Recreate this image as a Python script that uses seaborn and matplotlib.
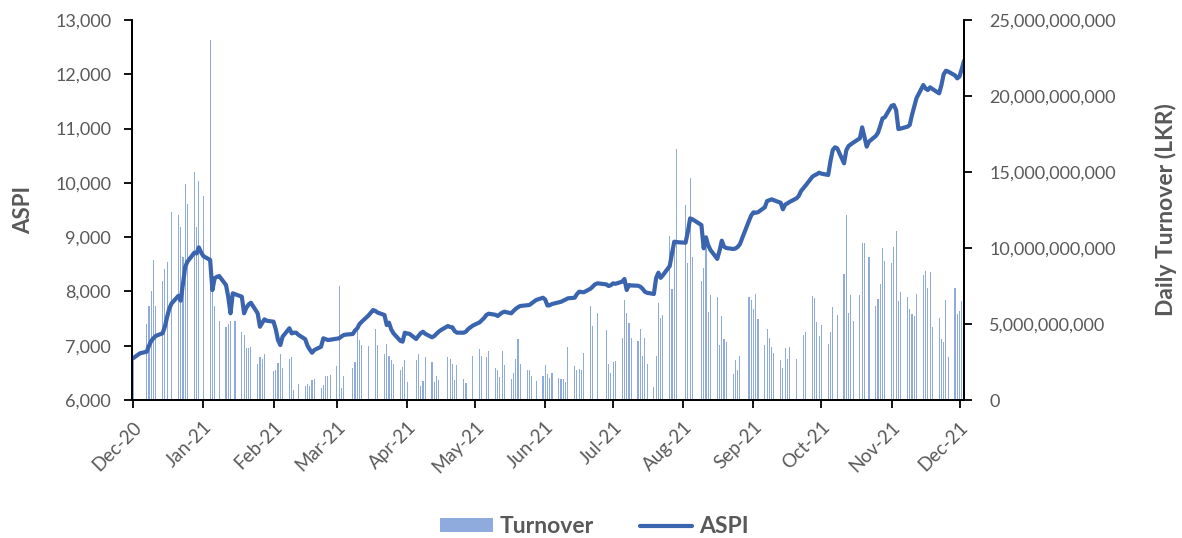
import numpy as np
import pandas as pd
import matplotlib
matplotlib.use("Agg")
import matplotlib.pyplot as plt
from matplotlib.ticker import FuncFormatter, MultipleLocator
from matplotlib.patches import Patch
from matplotlib.lines import Line2D
import seaborn as sns

nan = np.nan

# ---------------- data (trading days, Dec-2020 .. Dec-2021) ----------------
aspi_dec20 = [6770, 6800, 6830, 6860, 6890, 7000, 7090, 7140, 7180, 7230, 7350, 7530,
              7690, 7780, 7920, 7830, 8150, 8456, 8550, 8713, 8700, 8812, 8720]
aspi_jan21 = [8650, 8580, 8026, 8242, 8270, 8284, 8118, 7900, 7597, 7965, 7950, 7903,
              7597, 7700, 7760, 7792, 7597, 7350, 7420, 7486, 7460]
aspi_feb21 = [7443, 7300, 7100, 7013, 7166, 7321, 7228, 7240, 7240, 7200, 7120, 7000,
              6930, 6871, 6920, 6982, 7137, 7120, 7105, 7110]
aspi_mar21 = [7130, 7137, 7170, 7197, 7205, 7216, 7280, 7321, 7400, 7443, 7560, 7610,
              7658, 7640, 7610, 7566, 7381, 7424, 7300, 7228, 7090, 7075, 7240]
aspi_apr21 = [7225, 7220, 7124, 7180, 7230, 7258, 7220, 7155, 7179, 7220, 7260, 7290,
              7363, 7345, 7339, 7270, 7240, 7240, 7260, 7308, 7340, 7370]
aspi_may21 = [7430, 7470, 7510, 7566, 7590, 7570, 7547, 7580, 7610, 7627, 7597, 7640,
              7680, 7710, 7732, 7745, 7750, 7780, 7810, 7842, 7884]
aspi_jun21 = [7850, 7740, 7745, 7768, 7800, 7810, 7829, 7850, 7873, 7884, 7950, 7995,
              7990, 7984, 8050, 8090, 8130, 8149, 8145, 8130, 8100, 8115]
aspi_jul21 = [8149, 8140, 8180, 8229, 8026, 8118, 8110, 8105, 8087, 8050, 7995, 7975,
              7953, 8250, 8345, 8250, 8300, 8468, 8700, 8916, 8910, 8905]
aspi_aug21 = [8898, 9100, 9346, 9330, 9303, 9224, 8794, 8997, 8850, 8763, 8600, 8750,
              8935, 8824, 8800, 8782, 8790, 8820, 8870, 8980, 9300, 9400]
aspi_sep21 = [9457, 9450, 9460, 9550, 9666, 9680, 9697, 9680, 9634, 9513, 9600, 9623,
              9650, 9715, 9760, 9850, 9900, 9950, 10113, 10140, 10160, 10187]
aspi_oct21 = [10170, 10145, 10400, 10605, 10655, 10636, 10360, 10600, 10679, 10710, 10740,
              10821, 11023, 10850, 10667, 10760, 10863, 10924, 11050, 11189, 11207]
aspi_nov21 = [11420, 11434, 11342, 10992, 11000, 11035, 11066, 11250, 11403, 11560, 11802,
              11740, 11710, 11760, 11730, 11649, 11800, 12000, 12066, 12050, 11980, 11925]
aspi_dec21 = [11960, 12100, 12250]

# daily turnover in LKR billions (nan = no bar)
turn_dec20 = [2.7, nan, nan, nan, 5.0, 6.2, 7.2, 9.2, 6.2, 7.8, 8.6, 9.1, nan, 12.4,
              12.2, 11.4, 9.4, 14.2, 12.9, 15.0, 11.4, 14.4, nan]
turn_jan21 = [13.4, 23.7, 7.2, 6.2, nan, 5.2, 4.8, 5.0, 5.2, nan, 5.2, 4.5, 4.3, 3.4,
              3.4, 3.5, 2.4, 2.85, 2.7, 3.0, nan]
turn_feb21 = [1.9, 2.0, 2.45, 3.0, 2.1, 2.7, 2.8, 0.66, nan, 1.05, 0.9, 1.05, 0.9, 1.3,
              1.4, 0.8, 1.0, 1.6, 1.6, 1.65]
turn_mar21 = [2.24, 7.5, 0.79, 1.58, nan, 2.1, 2.5, 4.6, 3.95, 3.6, 3.55, nan, nan, 4.7,
              3.6, 3.0, 3.7, 2.9, 2.6, 2.4, 2.0, 2.2, 2.6]
turn_apr21 = [1.2, nan, 2.6, 3.0, 0.92, 1.25, 2.8, 2.5, 1.2, 1.6, 1.3, nan, 2.8, 2.7,
              2.35, 1.3, 2.3, 1.36, 1.14, nan, nan, 2.9]
turn_may21 = [3.36, 2.9, nan, 2.85, 3.2, 2.1, 2.0, 1.5, 3.25, 2.3, 1.4, 1.8, 2.7, 4.0,
              2.4, 2.0, 2.0, 1.6, nan, 1.25, 1.6]
turn_jun21 = [2.3, 1.7, 1.47, 1.75, 1.43, 1.36, 1.36, 1.2, 3.47, 2.26, 2.0, 2.06, 2.0,
              3.07, 6.2, 4.9, nan, 5.7, nan, 4.6, 2.35, 1.8]
turn_jul21 = [2.5, 2.57, 4.1, 6.6, 5.7, 5.07, 4.1, 3.9, 4.7, 2.9, 4.1, 2.35, 0.83, 2.9,
              6.4, 5.4, 5.6, 10.8, 7.3, 10.5, 16.5, nan]
turn_aug21 = [12.85, 9.0, 14.6, 9.4, nan, 7.8, 8.7, 10.1, 5.8, 6.9, 6.75, 3.6, 5.5, 4.0,
              3.8, 1.7, 2.6, 2.0, 2.9, nan, 6.8, 6.6]
turn_sep21 = [6.0, 7.0, 5.3, 3.6, 4.7, 4.1, 3.5, 3.07, 2.6, 2.1, 3.4, 2.7, 3.5, 2.7, nan,
              nan, 4.3, 4.45, 6.84, 6.7, 5.1, 4.2]
turn_oct21 = [4.95, 3.7, 4.45, 6.1, nan, 5.6, 8.3, 12.2, 5.7, 6.9, 5.2, 6.9, 10.3, 10.3,
              nan, 9.4, 6.2, 6.65, 7.6, 10.0, 9.15]
turn_nov21 = [9.0, 10.05, 11.1, 6.5, 7.1, 6.75, 6.0, 5.65, 5.5, 7.0, 8.2, 8.5, 7.4, 8.4,
              4.8, 5.4, 4.0, 3.8, 6.6, 2.85, 7.35, 5.65]
turn_dec21 = [5.86, 6.5, 8.2]

month_ticks = ["2020-12-01", "2021-01-01", "2021-02-01", "2021-03-01", "2021-04-01",
               "2021-05-01", "2021-06-01", "2021-07-01", "2021-08-01", "2021-09-01",
               "2021-10-01", "2021-11-01", "2021-12-01"]

aspi = sum([aspi_dec20, aspi_jan21, aspi_feb21, aspi_mar21, aspi_apr21, aspi_may21,
            aspi_jun21, aspi_jul21, aspi_aug21, aspi_sep21, aspi_oct21, aspi_nov21,
            aspi_dec21], [])
turnover_bn = sum([turn_dec20, turn_jan21, turn_feb21, turn_mar21, turn_apr21, turn_may21,
                   turn_jun21, turn_jul21, turn_aug21, turn_sep21, turn_oct21, turn_nov21,
                   turn_dec21], [])
dates = pd.bdate_range("2020-12-01", "2021-12-03")

df = pd.DataFrame({"Date": dates, "ASPI": aspi,
                   "Turnover": np.array(turnover_bn) * 1e9})

# ---------------- styling ----------------
sns.set_theme(style="white")
plt.rcParams["font.family"] = ["Lato", "DejaVu Sans"]
GRAY = "#595959"
BAR_C = "#8FAADC"
LINE_C = "#3A64AE"

fig = plt.figure(figsize=(11.82, 5.38), dpi=100)
ax = fig.add_axes([0.1117, 0.2565, 0.7039, 0.7063])
ax2 = ax.twinx()
ax.set_zorder(ax2.get_zorder() + 1)
ax.patch.set_visible(False)

# bars (secondary axis)
ax2.bar(df["Date"], df["Turnover"], width=0.5, color=BAR_C, linewidth=0)

# line (primary axis)
sns.lineplot(data=df, x="Date", y="ASPI", ax=ax, color=LINE_C, linewidth=3.0,
             legend=False, solid_joinstyle="round", solid_capstyle="round")

ax.set_ylim(6000, 13000)
ax.yaxis.set_major_locator(MultipleLocator(1000))
ax.yaxis.set_major_formatter(FuncFormatter(lambda v, p: f"{v:,.0f}"))
ax2.set_ylim(0, 25e9)
ax2.yaxis.set_major_locator(MultipleLocator(5e9))
ax2.yaxis.set_major_formatter(FuncFormatter(lambda v, p: f"{v:,.0f}"))

ax.set_xlim(pd.Timestamp("2020-11-30 12:00"), pd.Timestamp("2021-12-03"))
ticks = pd.to_datetime(month_ticks)
ax.set_xticks(ticks)
ax.set_xticklabels([t.strftime("%b-%y") for t in ticks])
ax.xaxis.set_minor_locator(plt.NullLocator())

for a in (ax, ax2):
    for s in a.spines.values():
        s.set_color("black")
        s.set_linewidth(1.3)
    a.spines["top"].set_visible(False)

ax.tick_params(axis="y", which="major", direction="out", length=6, width=1.3,
               color="black", labelsize=13, labelcolor=GRAY, pad=9, left=True)
ax2.tick_params(axis="y", which="major", direction="out", length=6, width=1.3,
                color="black", labelsize=13, labelcolor=GRAY, pad=12, right=True)
ax.tick_params(axis="x", which="major", direction="out", length=6, width=1.3,
               color="black", labelsize=13.5, labelcolor=GRAY, pad=7, bottom=True)
for lbl in ax.get_xticklabels():
    lbl.set_rotation(45)
    lbl.set_ha("right")
    lbl.set_rotation_mode("anchor")

ax.set_xlabel("")
ax.set_ylabel("ASPI", fontsize=16, fontweight="bold", color=GRAY, labelpad=15)
ax2.set_ylabel("Daily Turnover (LKR)", fontsize=16.5, fontweight="bold", color=GRAY,
               labelpad=28)

handles = [Patch(facecolor=BAR_C, edgecolor="none"),
           Line2D([0], [0], color=LINE_C, linewidth=3.0)]
leg = fig.legend(handles, ["Turnover", "ASPI"], loc="center", ncol=2,
                 bbox_to_anchor=(0.503, 0.021), frameon=False, handlelength=2.3,
                 handleheight=0.6, columnspacing=2.0, handletextpad=0.3,
                 prop={"weight": "bold", "size": 16.5})
for t in leg.get_texts():
    t.set_color(GRAY)

fig.savefig("out.png", dpi=100)
